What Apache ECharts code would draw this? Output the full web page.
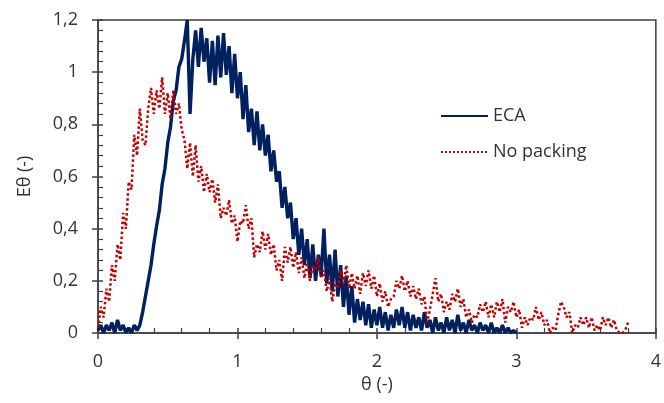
<!DOCTYPE html>
<html><head><meta charset="utf-8">
<script src="https://cdn.jsdelivr.net/npm/echarts@6/dist/echarts.min.js"></script>
<style>html,body{margin:0;padding:0;background:#fff}#c{width:664px;height:403px}</style>
</head><body><div id="c"></div>
<script>
// theta sampling positions (-)
const theta = [
0,0.02,0.04,0.06,0.08,0.1,0.12,0.14,0.16,0.18,
0.2,0.22,0.24,0.26,0.28,0.3,0.32,0.34,0.36,0.38,
0.4,0.42,0.44,0.46,0.48,0.5,0.52,0.54,0.56,0.58,
0.6,0.62,0.64,0.66,0.68,0.7,0.72,0.74,0.76,0.78,
0.8,0.82,0.84,0.86,0.88,0.9,0.92,0.94,0.96,0.98,
1,1.02,1.04,1.06,1.08,1.1,1.12,1.14,1.16,1.18,
1.2,1.22,1.24,1.26,1.28,1.3,1.32,1.34,1.36,1.38,
1.4,1.42,1.44,1.46,1.48,1.5,1.52,1.54,1.56,1.58,
1.6,1.62,1.64,1.66,1.68,1.7,1.72,1.74,1.76,1.78,
1.8,1.82,1.84,1.86,1.88,1.9,1.92,1.94,1.96,1.98,
2,2.02,2.04,2.06,2.08,2.1,2.12,2.14,2.16,2.18,
2.2,2.22,2.24,2.26,2.28,2.3,2.32,2.34,2.36,2.38,
2.4,2.42,2.44,2.46,2.48,2.5,2.52,2.54,2.56,2.58,
2.6,2.62,2.64,2.66,2.68,2.7,2.72,2.74,2.76,2.78,
2.8,2.82,2.84,2.86,2.88,2.9,2.92,2.94,2.96,2.98,
3,3.02,3.04,3.06,3.08,3.1,3.12,3.14,3.16,3.18,
3.2,3.22,3.24,3.26,3.28,3.3,3.32,3.34,3.36,3.38,
3.4,3.42,3.44,3.46,3.48,3.5,3.52,3.54,3.56,3.58,
3.6,3.62,3.64,3.66,3.68,3.7,3.72,3.74,3.76,3.78,
3.8];

// E(theta) for ECA (first 151 theta positions)
const ecaValues = [
0.01,0.03,0.00,0.03,0.01,0.04,0.00,0.05,0.01,0.03,
0.00,0.02,0.00,0.03,0.01,0.03,0.08,0.14,0.20,0.26,
0.34,0.41,0.47,0.57,0.63,0.73,0.79,0.89,0.93,1.02,
1.05,1.12,1.20,0.84,1.05,1.16,1.02,1.17,1.04,1.13,
0.96,1.12,0.95,1.14,0.98,1.15,0.99,1.10,0.92,1.07,
0.90,1.00,0.82,0.95,0.77,0.86,0.72,0.85,0.70,0.80,
0.68,0.76,0.62,0.70,0.58,0.62,0.48,0.56,0.44,0.50,
0.36,0.44,0.30,0.40,0.26,0.36,0.21,0.34,0.20,0.30,
0.22,0.40,0.19,0.30,0.16,0.32,0.14,0.26,0.10,0.22,
0.07,0.18,0.04,0.13,0.05,0.12,0.03,0.11,0.02,0.09,
0.03,0.10,0.02,0.08,0.01,0.07,0.02,0.09,0.03,0.10,
0.02,0.08,0.01,0.07,0.02,0.06,0.01,0.08,0.02,0.05,
0.00,0.06,0.01,0.04,0.00,0.06,0.01,0.05,0.00,0.07,
0.01,0.04,0.00,0.05,0.01,0.03,0.00,0.04,0.01,0.03,
0.00,0.04,0.00,0.02,0.00,0.03,0.00,0.02,0.00,0.01,
0.00];

// E(theta) for No packing (all 191 theta positions)
const noPackingValues = [
0.02,0.10,0.06,0.17,0.12,0.26,0.20,0.34,0.28,0.46,
0.40,0.58,0.55,0.76,0.68,0.86,0.74,0.72,0.86,0.94,
0.84,0.93,0.86,0.98,0.84,0.92,0.82,0.93,0.84,0.88,
0.78,0.74,0.63,0.73,0.60,0.72,0.58,0.64,0.54,0.61,
0.54,0.59,0.50,0.57,0.44,0.48,0.45,0.51,0.42,0.45,
0.35,0.43,0.42,0.49,0.40,0.44,0.29,0.34,0.31,0.39,
0.32,0.38,0.30,0.34,0.24,0.28,0.20,0.33,0.27,0.33,
0.25,0.31,0.23,0.29,0.21,0.27,0.20,0.26,0.24,0.29,
0.21,0.24,0.16,0.21,0.12,0.19,0.17,0.24,0.19,0.26,
0.17,0.23,0.17,0.22,0.15,0.23,0.18,0.24,0.17,0.22,
0.14,0.19,0.12,0.16,0.10,0.13,0.14,0.20,0.17,0.22,
0.16,0.20,0.14,0.18,0.13,0.17,0.11,0.14,0.04,0.09,
0.15,0.21,0.12,0.15,0.08,0.12,0.09,0.15,0.12,0.17,
0.10,0.13,0.06,0.09,0.04,0.07,0.06,0.11,0.08,0.12,
0.06,0.11,0.06,0.12,0.08,0.13,0.04,0.10,0.08,0.12,
0.06,0.09,0.02,0.06,0.03,0.06,0.05,0.10,0.05,0.08,
0.03,0.05,0.00,0.02,0.01,0.07,0.12,0.10,0.06,0.08,
0.00,0.03,0.02,0.06,0.03,0.06,0.02,0.06,0.01,0.03,
0.01,0.06,0.03,0.06,0.02,0.05,0.01,0.00,0.00,0.01,
0.04];

const seriesNames = ['ECA', 'No packing'];
const xTitle = 'θ (-)';
const yTitle = 'Eθ (-)';

const FONT = '"Open Sans", "Noto Sans", sans-serif';
const AX = '#404040';
const TXT = '#333333';
const FS = 18;
const fmt = v => String(+Number(v).toFixed(1)).replace('.', ',');

const chart = echarts.init(document.getElementById('c'), null, {renderer: 'canvas'});
chart.setOption({
  animation: false,
  backgroundColor: '#ffffff',
  grid: {left: 98, right: 5, top: 20, bottom: 70, show: true, borderColor: AX, borderWidth: 1.5, backgroundColor: 'transparent'},
  legend: {
    orient: 'vertical', left: 440, top: 107, padding: 0, itemWidth: 47, itemHeight: 14, itemGap: 18,
    itemStyle: {opacity: 0},
    textStyle: {fontFamily: FONT, fontSize: FS, color: TXT},
    data: seriesNames
  },
  xAxis: [
    {type: 'value', min: 0, max: 4, interval: 1, position: 'bottom',
     axisLine: {show: true, onZero: false, lineStyle: {color: AX, width: 1.5}},
     axisTick: {show: true, inside: false, length: 6, lineStyle: {color: AX, width: 1.5}},
     axisLabel: {fontFamily: FONT, fontSize: FS, color: TXT, margin: 20, formatter: fmt},
     splitLine: {show: false},
     name: xTitle, nameLocation: 'middle', nameGap: 43,
     nameTextStyle: {fontFamily: FONT, fontSize: FS, color: TXT}},
    {type: 'value', min: 0, max: 4, interval: 1, position: 'bottom',
     axisLine: {show: false}, axisLabel: {show: false}, splitLine: {show: false},
     axisTick: {show: true, inside: true, length: 5, lineStyle: {color: AX, width: 1.5}},
     minorTick: {show: true, splitNumber: 5, length: 5, lineStyle: {color: AX, width: 1.2}}}
  ],
  yAxis: [
    {type: 'value', min: 0, max: 1.2, interval: 0.2, position: 'left',
     axisLine: {show: true, onZero: false, lineStyle: {color: AX, width: 1.5}},
     axisTick: {show: true, inside: false, length: 6, lineStyle: {color: AX, width: 1.5}},
     axisLabel: {fontFamily: FONT, fontSize: FS, color: TXT, margin: 20, formatter: fmt},
     splitLine: {show: false},
     name: yTitle, nameLocation: 'middle', nameGap: 64,
     nameTextStyle: {fontFamily: FONT, fontSize: FS, color: TXT}},
    {type: 'value', min: 0, max: 1.2, interval: 0.2, position: 'left',
     axisLine: {show: false}, axisLabel: {show: false}, splitLine: {show: false},
     axisTick: {show: true, inside: true, length: 5, lineStyle: {color: AX, width: 1.5}},
     minorTick: {show: true, splitNumber: 5, length: 5, lineStyle: {color: AX, width: 1.2}}}
  ],
  series: [
    {name: seriesNames[0], type: 'line', xAxisIndex: 0, yAxisIndex: 0, showSymbol: false, symbol: 'none',
     lineStyle: {color: '#002060', width: 3.4}, itemStyle: {color: '#002060'}, z: 3,
     data: ecaValues.map((v, i) => [theta[i], v])},
    {name: seriesNames[1], type: 'line', xAxisIndex: 0, yAxisIndex: 0, showSymbol: false, symbol: 'none',
     lineStyle: {color: '#C00000', width: 2.5, type: 'dotted'}, itemStyle: {color: '#C00000'}, z: 4,
     data: noPackingValues.map((v, i) => [theta[i], v])}
  ]
});
</script></body></html>
